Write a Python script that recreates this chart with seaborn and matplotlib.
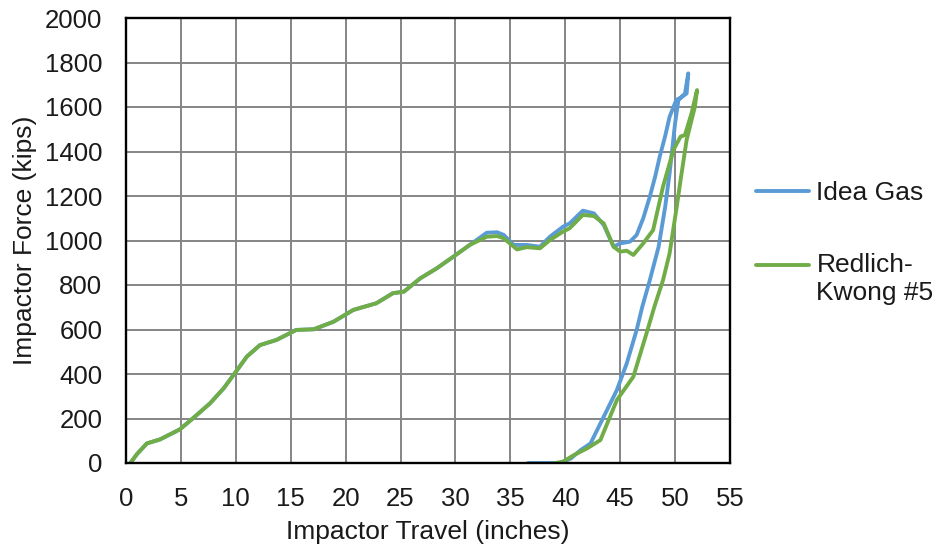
import matplotlib
matplotlib.use("Agg")
import matplotlib.pyplot as plt
import seaborn as sns
import pandas as pd
from matplotlib.lines import Line2D
from matplotlib.legend_handler import HandlerLine2D

# Ideal gas: loading then unloading path
ideal_x = [0.4, 1.0, 1.9, 3.1, 4.9, 6.1, 7.65, 8.9, 9.9, 11.0, 12.2, 13.7, 15.5, 17.1,
           18.9, 20.7, 22.8, 24.3, 25.3, 26.8, 28.3, 29.8, 31.3, 32.85, 33.8, 34.4,
           35.3, 36.5, 37.7, 38.6, 39.8, 40.4, 41.6, 42.6, 43.5, 44.4, 45.0, 45.9,
           46.5, 47.1, 47.7, 48.2, 48.6, 49.1, 49.5, 50.1, 50.6, 51.05, 51.2,
           50.9, 50.3, 50.0, 49.5, 49.1, 48.5, 47.7, 47.0, 46.5, 45.6, 44.7, 43.2,
           42.3, 41.4, 40.5, 39.5, 36.6]
ideal_y = [0, 40, 88, 106, 151, 201, 268, 336, 403, 478, 530, 553, 598, 601,
           635, 688, 718, 763, 770, 830, 875, 927, 980, 1035, 1037, 1025,
           980, 980, 972, 1017, 1062, 1077, 1134, 1122, 1070, 972, 987, 995,
           1025, 1100, 1197, 1290, 1377, 1470, 1556, 1631, 1645, 1661, 1751,
           1660, 1631, 1527, 1302, 1152, 972, 822, 700, 598, 448, 328, 178,
           88, 58, 20, 0, 0]

# Redlich-Kwong #5: loading then unloading path
rk_x = [0.4, 1.0, 1.9, 3.1, 4.9, 6.1, 7.65, 8.9, 9.9, 11.0, 12.2, 13.7, 15.5, 17.1,
        18.9, 20.7, 22.8, 24.3, 25.3, 26.8, 28.3, 29.8, 31.3, 32.85, 33.8, 34.4,
        35.6, 36.5, 37.7, 38.6, 39.8, 40.4, 41.6, 42.6, 43.5, 44.4, 45.0, 45.6,
        46.2, 47.1, 48.0, 48.9, 49.85, 50.5, 50.9, 51.5, 52.0,
        51.8, 51.05, 50.5, 50.15, 49.5, 48.9, 48.1, 47.4, 46.2, 44.7, 43.2,
        42.0, 40.8, 39.8, 39.1]
rk_y = [0, 40, 88, 106, 151, 201, 268, 336, 403, 478, 530, 553, 598, 601,
        635, 688, 718, 763, 770, 830, 875, 927, 980, 1017, 1020, 1010,
        960, 970, 965, 1002, 1040, 1055, 1115, 1110, 1077, 972, 950, 954,
        935, 987, 1047, 1242, 1407, 1467, 1474, 1572, 1676,
        1601, 1452, 1272, 1152, 942, 822, 700, 583, 388, 283, 103,
        66, 36, 6, 0]

series_names = ["Idea Gas", "Redlich-\nKwong #5"]
colors = ["#5B9BD5", "#70AD47"]
x_ticks = list(range(0, 56, 5))
y_ticks = list(range(0, 2001, 200))

df = pd.concat([
    pd.DataFrame({"x": ideal_x, "y": ideal_y, "series": series_names[0]}),
    pd.DataFrame({"x": rk_x, "y": rk_y, "series": series_names[1]}),
], ignore_index=True)

sns.set_theme(style="white")
plt.rcParams["font.family"] = ["Liberation Sans", "DejaVu Sans"]

fig = plt.figure(figsize=(9.36, 5.5), dpi=100)
ax = fig.add_axes([126 / 936, 1 - 463 / 550, (730 - 126) / 936, (463 - 18) / 550])

sns.lineplot(data=df, x="x", y="y", hue="series", sort=False, estimator=None,
             units="series", palette=dict(zip(series_names, colors)),
             linewidth=2.8, ax=ax, legend=False)

ax.set_xlim(0, 55)
ax.set_ylim(0, 2000)
ax.set_xticks(x_ticks)
ax.set_yticks(y_ticks)
ax.grid(True, color="#858585", linewidth=1.4)
ax.set_axisbelow(True)
for s in ax.spines.values():
    s.set_color("black")
    s.set_linewidth(1.7)
ax.tick_params(axis="x", length=0, labelsize=18.5, colors="#1a1a1a", pad=17)
ax.tick_params(axis="y", length=0, labelsize=18.5, colors="#1a1a1a", pad=17)
ax.set_xlabel("Impactor Travel (inches)", fontsize=19, color="#1a1a1a", labelpad=7)
ax.set_ylabel("Impactor Force (kips)", fontsize=19, color="#1a1a1a", labelpad=6)


class TopAlignedLine(HandlerLine2D):
    """Place the handle level with the first text line of a wrapped label."""
    def __init__(self, shift_pt=0.0, **kw):
        super().__init__(**kw)
        self.shift_pt = shift_pt

    def create_artists(self, legend, orig_handle, xdescent, ydescent, width,
                       height, fontsize, trans):
        artists = super().create_artists(legend, orig_handle, xdescent, ydescent,
                                         width, height, fontsize, trans)
        for a in artists:
            a.set_ydata([y + self.shift_pt for y in a.get_ydata()])
        return artists


handles = [Line2D([0], [0], color=c, lw=2.8) for c in colors]
fig.legend(handles, series_names, loc="center left",
           bbox_to_anchor=(732 / 936, 1 - 243 / 550),
           frameon=False, fontsize=19, handlelength=2.0, handletextpad=0.3,
           labelspacing=1.84, labelcolor="#1a1a1a",
           handler_map={handles[1]: TopAlignedLine(shift_pt=10.5)})

fig.savefig("out.png", dpi=100)
